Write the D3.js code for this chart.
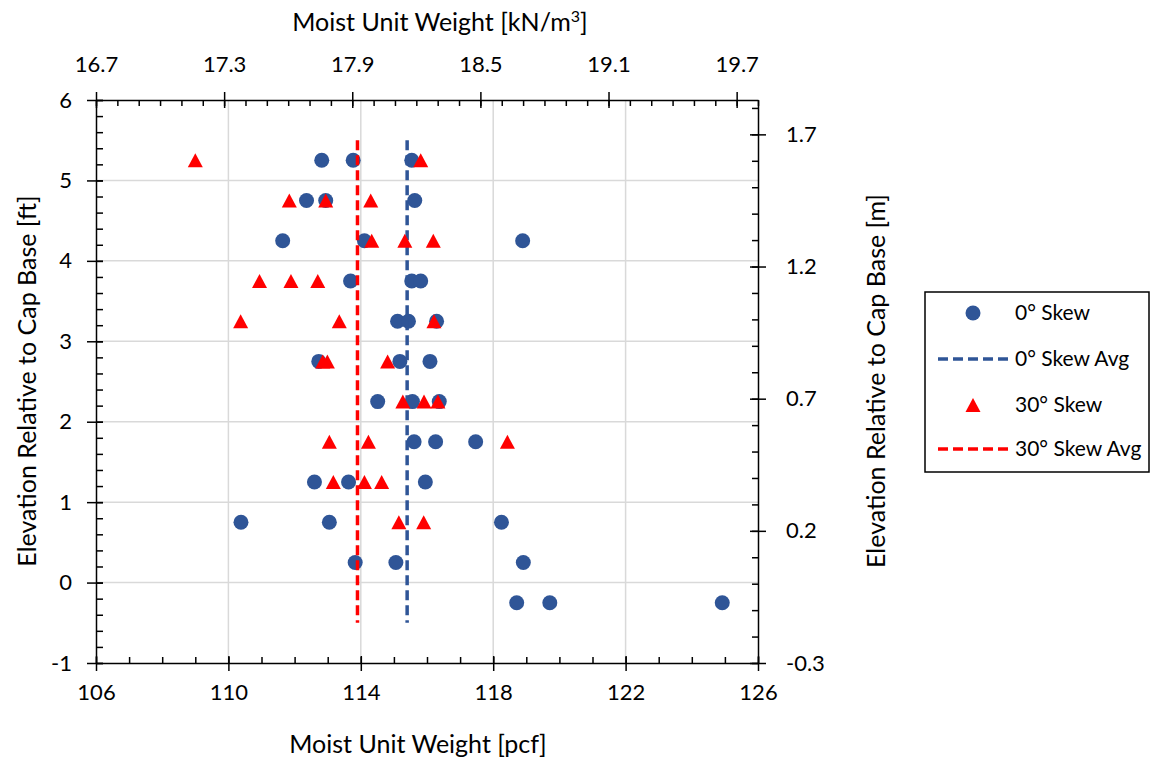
<!DOCTYPE html>
<html><head><meta charset="utf-8">
<script src="https://cdn.jsdelivr.net/npm/d3@7"></script>
<style>html,body{margin:0;padding:0;background:#fff;}</style>
</head><body>
<script>
// ---- data ----
const skew0Elevation = [5.25,5.25,5.25, 4.75,4.75,4.75, 4.25,4.25,4.25, 3.75,3.75,3.75,
  3.25,3.25,3.25, 2.75,2.75,2.75, 2.25,2.25,2.25, 1.75,1.75,1.75, 1.25,1.25,1.25,
  0.75,0.75,0.75, 0.25,0.25,0.25, -0.25,-0.25,-0.25];
const skew0Weight = [112.82,113.77,115.54, 112.36,112.94,115.63, 111.64,114.11,118.89, 113.69,115.54,115.81,
  115.11,115.44,116.29, 112.73,115.18,116.09, 114.51,115.56,116.37, 115.61,116.26,117.47, 112.60,113.63,115.95,
  110.38,113.05,118.25, 113.83,115.06,118.91, 118.71,119.71,124.92];
const skew30Elevation = [5.25,5.25, 4.75,4.75,4.75, 4.25,4.25,4.25, 3.75,3.75,3.75,
  3.25,3.25,3.25, 2.75,2.75,2.75, 2.25,2.25,2.25, 1.75,1.75,1.75, 1.25,1.25,1.25, 0.75,0.75];
const skew30Weight = [109.00,115.81, 111.84,112.94,114.30, 114.33,115.33,116.19, 110.94,111.89,112.70,
  110.37,113.35,116.21, 112.85,112.99,114.81, 115.27,115.91,116.33, 113.05,114.23,118.43, 113.17,114.11,114.63, 115.15,115.90];
const skew0Avg = 115.4;
const skew30Avg = 113.9;
const avgSpan = [5.5, -0.5];
const pcfTicks = [106,110,114,118,122,126];
const kNTicks = [16.7,17.3,17.9,18.5,19.1,19.7];
const ftTicks = [-1,0,1,2,3,4,5,6];
const mTicks = [-0.3,0.2,0.7,1.2,1.7];
const legendLabels = ["0° Skew","0° Skew Avg","30° Skew","30° Skew Avg"];

// ---- layout ----
const W=1151,H=761, L=96,R=758,T=100,B=663;
const FONT="Lato, 'Open Sans', sans-serif";
const BLUE="#2F5597", RED="#FF0000";
const TICKFS=22, TITLEFS=25, LEGFS=21;

const x = d3.scaleLinear([106,126],[L,R]);
const xTop = d3.scaleLinear([16.7,19.8],[L,R]);
const y = d3.scaleLinear([-1,6],[B,T]);
const yR = d3.scaleLinear([-0.3,1.83],[B,T]);
const hy = f => (v => f(v).replace("\u2212","-"));

const svg = d3.select("body").append("svg").attr("width",W).attr("height",H)
  .style("font-family",FONT);

// grid
const grid = svg.append("g").attr("stroke","#d9d9d9").attr("stroke-width",1.5);
grid.selectAll("line.v").data(pcfTicks.slice(1,-1)).join("line")
  .attr("x1",d=>x(d)).attr("x2",d=>x(d)).attr("y1",T).attr("y2",B);
grid.selectAll("line.h").data(ftTicks.slice(1,-1)).join("line").attr("class","h")
  .attr("y1",d=>y(d)).attr("y2",d=>y(d)).attr("x1",L).attr("x2",R);

function style(g){
  g.selectAll("text").attr("font-family",FONT).attr("font-size",TICKFS).attr("fill","#000");
  g.select(".domain").attr("stroke","#000").attr("stroke-width",1.5);
  g.selectAll(".tick line").attr("stroke","#000").attr("stroke-width",1.5);
}
function noDomain(g){ g.select(".domain").remove(); }

// bottom
svg.append("g").attr("transform",`translate(0,${B})`)
  .call(d3.axisBottom(x).tickValues(d3.range(106,127,1)).tickSize(-6).tickFormat("")).call(noDomain).call(style);
svg.append("g").attr("transform",`translate(0,${B})`)
  .call(d3.axisBottom(x).tickValues(pcfTicks).tickSize(8).tickPadding(13).tickSizeOuter(0).tickFormat(hy(d3.format("d")))).call(style)
  .call(g=>g.selectAll(".tick line").attr("y1",-7));
// top
svg.append("g").attr("transform",`translate(0,${T})`)
  .call(d3.axisTop(xTop).tickValues(d3.range(167,199).map(d=>d/10)).tickSize(-6).tickFormat("")).call(noDomain).call(style);
svg.append("g").attr("transform",`translate(0,${T})`)
  .call(d3.axisTop(xTop).tickValues(kNTicks).tickSize(8).tickPadding(20).tickSizeOuter(0).tickFormat(d3.format(".1f"))).call(style)
  .call(g=>g.selectAll(".tick line").attr("y1",8));
// left
svg.append("g").attr("transform",`translate(${L},0)`)
  .call(d3.axisLeft(y).tickValues(d3.range(-5,31).map(d=>d/5)).tickSize(-7).tickFormat("")).call(noDomain).call(style);
svg.append("g").attr("transform",`translate(${L},0)`)
  .call(d3.axisLeft(y).tickValues(ftTicks).tickSize(9).tickPadding(15).tickSizeOuter(0).tickFormat(hy(d3.format("d")))).call(style)
  .call(g=>g.selectAll(".tick line").attr("x1",7));
// right
svg.append("g").attr("transform",`translate(${R},0)`)
  .call(d3.axisRight(yR).tickValues(d3.range(-3,19).map(d=>d/10)).tickSize(-6).tickFormat("")).call(noDomain).call(style);
svg.append("g").attr("transform",`translate(${R},0)`)
  .call(d3.axisRight(yR).tickValues(mTicks).tickSize(8).tickPadding(20).tickSizeOuter(0).tickFormat(hy(d3.format(".1f")))).call(style)
  .call(g=>g.selectAll(".tick line").attr("x1",-8));

// titles
svg.append("text").attr("x",418).attr("y",753).attr("text-anchor","middle").attr("font-size",TITLEFS)
  .text("Moist Unit Weight [pcf]");
const tt = svg.append("text").attr("x",440).attr("y",31).attr("text-anchor","middle").attr("font-size",TITLEFS);
tt.append("tspan").text("Moist Unit Weight [kN/m");
tt.append("tspan").attr("font-size",16).attr("dy",-9).text("3");
tt.append("tspan").attr("dy",9).text("]");
svg.append("text").attr("transform","translate(36,381) rotate(-90)").attr("text-anchor","middle").attr("font-size",TITLEFS)
  .text("Elevation Relative to Cap Base [ft]");
svg.append("text").attr("transform","translate(885,381) rotate(-90)").attr("text-anchor","middle").attr("font-size",TITLEFS)
  .text("Elevation Relative to Cap Base [m]");

// marks
const tri = "M0,-7L7.5,7L-7.5,7Z";
const lineGen = d3.line().x(d=>x(d[0])).y(d=>y(d[1]));
svg.append("g").selectAll("circle").data(skew0Weight.map((w,i)=>[w,skew0Elevation[i]])).join("circle")
  .attr("cx",d=>x(d[0])).attr("cy",d=>y(d[1])).attr("r",7.5).attr("fill",BLUE);
svg.append("path").attr("d",lineGen(avgSpan.map(e=>[skew0Avg,e]))).attr("stroke",BLUE)
  .attr("stroke-width",3.5).attr("stroke-dasharray","10,5").attr("fill","none");
svg.append("g").selectAll("path").data(skew30Weight.map((w,i)=>[w,skew30Elevation[i]])).join("path")
  .attr("transform",d=>`translate(${x(d[0])},${y(d[1])})`).attr("d",tri).attr("fill",RED);
svg.append("path").attr("d",lineGen(avgSpan.map(e=>[skew30Avg,e]))).attr("stroke",RED)
  .attr("stroke-width",3.5).attr("stroke-dasharray","10,5").attr("fill","none");

// legend
const lg = svg.append("g");
lg.append("rect").attr("x",925).attr("y",292).attr("width",224).attr("height",180)
  .attr("fill","#fff").attr("stroke","#000").attr("stroke-width",1.5);
const ly = [313,359,405,449];
lg.append("circle").attr("cx",973).attr("cy",ly[0]).attr("r",7.5).attr("fill",BLUE);
lg.append("line").attr("x1",938).attr("x2",1008).attr("y1",ly[1]).attr("y2",ly[1]).attr("stroke",BLUE)
  .attr("stroke-width",3.5).attr("stroke-dasharray","10,5");
lg.append("path").attr("transform",`translate(973,${ly[2]})`).attr("d",tri).attr("fill",RED);
lg.append("line").attr("x1",938).attr("x2",1008).attr("y1",ly[3]).attr("y2",ly[3]).attr("stroke",RED)
  .attr("stroke-width",3.5).attr("stroke-dasharray","10,5");
lg.selectAll("text").data(legendLabels).join("text").attr("x",1015).attr("y",(d,i)=>ly[i]+7)
  .attr("font-size",LEGFS).text(d=>d);
</script>
</body></html>
